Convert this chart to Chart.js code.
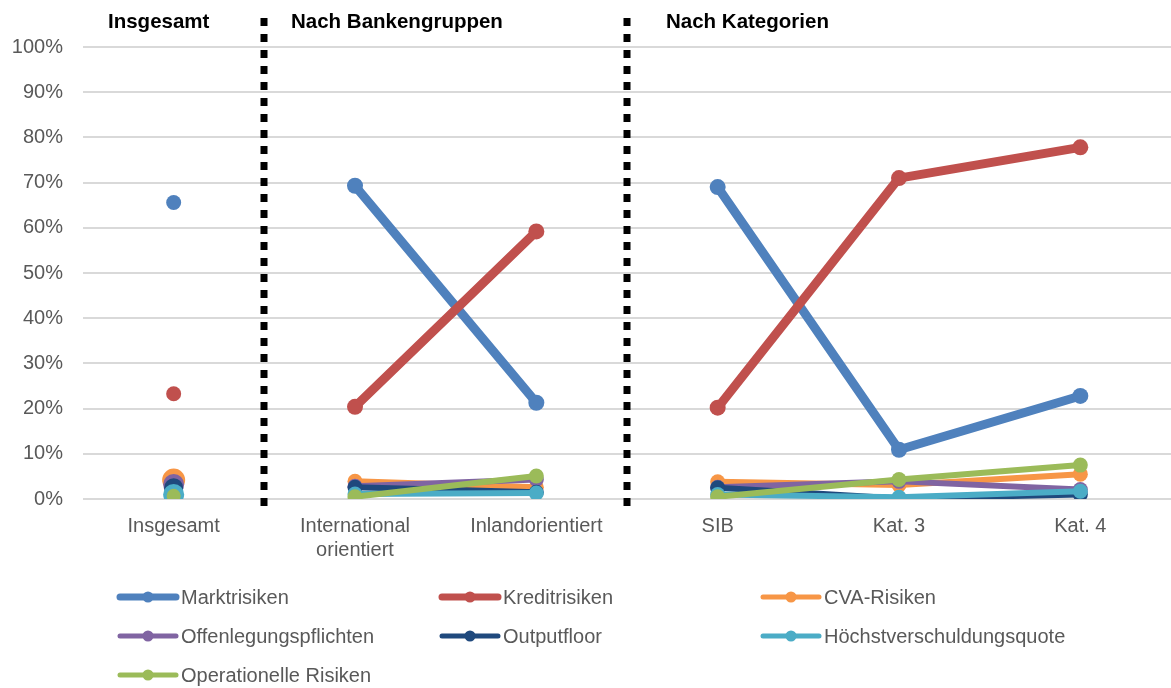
<!DOCTYPE html>
<html>
<head>
<meta charset="utf-8">
<script src="https://cdn.jsdelivr.net/npm/chart.js@4/dist/chart.umd.min.js"></script>
<style>
  html, body { margin: 0; padding: 0; background: #fff; overflow: hidden; }
  canvas { display: block; }
</style>
</head>
<body>
<canvas id="myChart" width="1171" height="688"></canvas>
<script>
// categories (x axis)
var labels = ['Insgesamt', ['International', 'orientiert'], 'Inlandorientiert', 'SIB', 'Kat. 3', 'Kat. 4']
var groupTitles = ['Insgesamt', 'Nach Bankengruppen', 'Nach Kategorien']

// series values in %
var marktrisiken = [65.6, 69.3, 21.3, 69.0, 10.9, 22.8]
var kreditrisiken = [23.3, 20.4, 59.2, 20.2, 71.0, 77.8]
var cvaRisiken = [4.2, 3.9, 2.6, 3.8, 3.1, 5.5]
var offenlegung = [3.2, 2.8, 4.3, 2.6, 3.9, 2.1]
var outputfloor = [2.5, 2.6, 1.5, 2.5, 0.1, 1.0]
var hoechstquote = [1.0, 1.1, 1.3, 1.0, 0.4, 1.7]
var opRisiken = [0.7, 0.5, 5.1, 0.5, 4.3, 7.5]

var yTicks = [0, 10, 20, 30, 40, 50, 60, 70, 80, 90, 100]

var textColor = '#595959'
var font = 'Arial, "Liberation Sans", sans-serif'

function series(label, data, color, width, radius, firstRadius, order) {
  var radii = data.map(function (v, i) { return i == 0 ? firstRadius : radius })
  return {
    label: label,
    data: data,
    borderColor: color,
    backgroundColor: color,
    borderWidth: width,
    pointRadius: radii,
    pointHoverRadius: radii,
    pointBorderWidth: 0,
    borderCapStyle: 'round',
    borderJoinStyle: 'round',
    order: order,
    legendWidth: width < 7 ? 5 : 7,
    // no line between the three groups
    segment: {
      borderColor: function (ctx) {
        return (ctx.p0DataIndex == 0 || ctx.p0DataIndex == 2) ? 'rgba(0,0,0,0)' : color
      }
    }
  }
}

var datasets = [
  series('Marktrisiken', marktrisiken, '#4f81bd', 9, 8, 7.5, 7),
  series('Kreditrisiken', kreditrisiken, '#c0504d', 9, 8, 7.5, 6),
  series('CVA-Risiken', cvaRisiken, '#f79646', 6, 7.5, 11.5, 5),
  series('Offenlegungspflichten', offenlegung, '#8064a2', 6, 7.5, 10.5, 4),
  series('Outputfloor', outputfloor, '#1f497d', 6, 7.5, 9.5, 3),
  series('Höchstverschuldungsquote', hoechstquote, '#4bacc6', 6, 7.5, 10.5, 2),
  series('Operationelle Risiken', opRisiken, '#9bbb59', 6, 7.5, 7, 1)
]

// separators, group titles and legend
var extras = {
  id: 'extras',
  afterDraw: function (chart) {
    var ctx = chart.ctx
    var x = chart.scales.x
    ctx.save()
    ctx.strokeStyle = '#000'
    ctx.lineWidth = 7
    ctx.setLineDash([8, 8])
    ctx.lineCap = 'butt'
    ;[0, 2].forEach(function (i) {
      var sx = Math.round((x.getPixelForValue(i) + x.getPixelForValue(i + 1)) / 2)
      ctx.beginPath()
      ctx.moveTo(sx, 18)
      ctx.lineTo(sx, 506)
      ctx.stroke()
    })
    ctx.setLineDash([])

    ctx.fillStyle = '#000'
    ctx.font = 'bold 20.5px ' + font
    ctx.textBaseline = 'middle'
    ctx.textAlign = 'left'
    var tx = [108, 291, 666]
    groupTitles.forEach(function (t, i) { ctx.fillText(t, tx[i], 22) })

    var colX = [120, 442, 763]
    var rowY = [597, 636, 675]
    ctx.font = '20px ' + font
    datasets.forEach(function (d, i) {
      var lx = colX[i % 3]
      var ly = rowY[Math.floor(i / 3)]
      ctx.strokeStyle = d.borderColor
      ctx.lineWidth = d.legendWidth
      ctx.lineCap = 'round'
      ctx.beginPath()
      ctx.moveTo(lx, ly)
      ctx.lineTo(lx + 56, ly)
      ctx.stroke()
      ctx.fillStyle = d.borderColor
      ctx.beginPath()
      ctx.arc(lx + 28, ly, 5.5, 0, Math.PI * 2)
      ctx.fill()
      ctx.fillStyle = textColor
      ctx.fillText(d.label, lx + 61, ly + 1)
    })
    ctx.restore()
  }
}

var chart = new Chart(document.getElementById('myChart').getContext('2d'), {
  type: 'line',
  data: { labels: labels, datasets: datasets },
  options: {
    responsive: false,
    animation: false,
    events: [],
    layout: { autoPadding: false, padding: { top: 47, left: 0, right: 0, bottom: 111 } },
    plugins: { legend: { display: false }, tooltip: { enabled: false } },
    scales: {
      x: {
        offset: true,
        afterFit: function (axis) { axis.paddingLeft = 0; axis.paddingRight = 0 },
        grid: { display: false, drawTicks: false },
        border: { display: false },
        ticks: { color: textColor, font: { size: 20, family: font }, padding: 15, maxRotation: 0, autoSkip: false }
      },
      y: {
        min: 0,
        max: 100,
        afterBuildTicks: function (axis) { axis.ticks = yTicks.map(function (v) { return { value: v } }) },
        afterFit: function (axis) { axis.width = 83 },
        grid: { color: '#d9d9d9', lineWidth: 2, drawTicks: false },
        border: { display: false },
        ticks: {
          color: textColor, font: { size: 20, family: font }, padding: 20,
          callback: function (v) { return v + '%' }
        }
      }
    }
  },
  plugins: [extras]
})
</script>
</body>
</html>
